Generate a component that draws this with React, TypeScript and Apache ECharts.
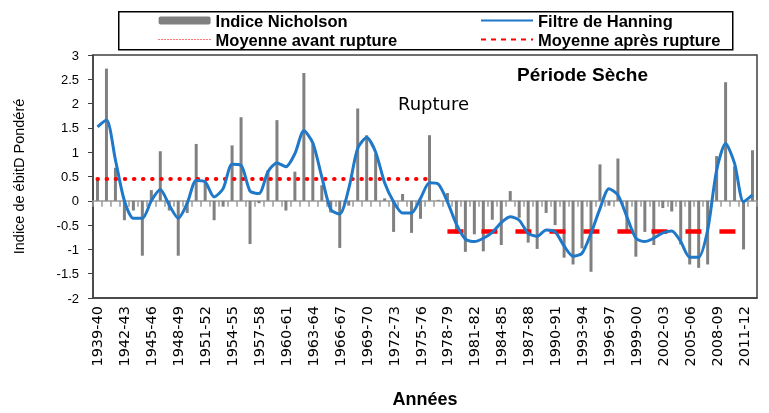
import React, { useEffect, useRef } from "react";
import * as echarts from "echarts";

const categories = [
  "1939-40","1940-41","1941-42","1942-43","1943-44","1944-45","1945-46","1946-47","1947-48","1948-49",
  "1949-50","1950-51","1951-52","1952-53","1953-54","1954-55","1955-56","1956-57","1957-58","1958-59",
  "1959-60","1960-61","1961-62","1962-63","1963-64","1964-65","1965-66","1966-67","1967-68","1968-69",
  "1969-70","1970-71","1971-72","1972-73","1973-74","1974-75","1975-76","1976-77","1977-78","1978-79",
  "1979-80","1980-81","1981-82","1982-83","1983-84","1984-85","1985-86","1986-87","1987-88","1988-89",
  "1989-90","1990-91","1991-92","1992-93","1993-94","1994-95","1995-96","1996-97","1997-98","1998-99",
  "1999-00","2000-01","2001-02","2002-03","2003-04","2004-05","2005-06","2006-07","2007-08","2008-09",
  "2009-10","2010-11","2011-12","2012-13"
];

const nicholson = [
  0.44, 2.72, 0.68, -0.4, -0.2, -1.13, 0.22, 1.02, -0.2, -1.13,
  -0.25, 1.17, 0.4, -0.4, -0.12, 1.14, 1.72, -0.89, -0.05, 0.63,
  1.66, -0.2, 0.6, 2.63, 1.18, 0.32, -0.24, -0.97, -0.1, 1.9,
  1.35, 0.97, 0.05, -0.64, 0.14, -0.66, -0.37, 1.35, 0.02, 0.16,
  -0.68, -1.05, -0.69, -1.04, -0.39, -0.91, 0.2, -0.35, -0.86, -0.99,
  -0.25, -0.5, -1.17, -1.31, -0.98, -1.46, 0.75, -0.1, 0.87, -0.6,
  -1.15, -0.64, -0.91, -0.15, -0.22, -0.9, -1.31, -1.38, -1.31, 0.92,
  2.44, 0.71, -1.0, 1.04
];

const hanning = [
  1.52, 1.66, 0.84, 0.0, -0.36, -0.36, 0.0, 0.23, -0.09, -0.36,
  -0.05, 0.42, 0.39, 0.08, 0.25, 0.75, 0.73, 0.2, 0.15, 0.6,
  0.78, 0.7, 0.97, 1.44, 1.19, 0.49, -0.18, -0.27, 0.25, 1.08,
  1.3, 1.0, 0.37, -0.02, -0.25, -0.25, 0.05, 0.37, 0.34, -0.02,
  -0.48, -0.79, -0.84, -0.77, -0.65, -0.45, -0.33, -0.4, -0.67, -0.73,
  -0.6, -0.64, -0.93, -1.14, -1.08, -0.67, -0.16, 0.25, 0.12, -0.33,
  -0.77, -0.84, -0.77, -0.66, -0.62, -0.84, -1.16, -1.16, -0.6, 0.63,
  1.18, 0.77, -0.02, 0.12
];

const meanBefore = 0.45;
const meanAfter = -0.63;
const lastBeforeIndex = 37;
const firstAfterIndex = 39;

const yTicks = { min: -2, max: 3, interval: 0.5 };

export default function App() {
  const ref = useRef<HTMLDivElement>(null);

  useEffect(() => {
    if (!ref.current) return;
    const chart = echarts.init(ref.current, undefined, { renderer: "svg" });

    const beforeData = categories.map((_, i) => (i <= lastBeforeIndex ? meanBefore : null));
    const afterData = categories.map((_, i) => (i >= firstAfterIndex ? meanAfter : null));

    const legendText = {
      fontFamily: "'Liberation Sans', Arial, sans-serif",
      fontWeight: "bold" as const,
      fontSize: 16.5,
      lineHeight: 19,
      color: "#000",
    };
    const hiddenSymbol = { color: "transparent", borderColor: "transparent", opacity: 0 };

    chart.setOption({
      animation: false,
      textStyle: { fontFamily: "'Liberation Sans', Arial, sans-serif" },
      grid: {
        left: 93,
        right: 12,
        top: 55,
        bottom: 111,
        show: true,
        borderColor: "#404040",
        borderWidth: 1.5,
        backgroundColor: "transparent",
      },
      legend: [
        {
          left: 153,
          top: 8,
          padding: [3, 5, 3, 5],
          orient: "vertical",
          itemGap: 0,
          itemWidth: 52,
          itemHeight: 8,
          selectedMode: false,
          textStyle: legendText,
          data: [
            { name: "Indice Nicholson" },
            {
              name: "Moyenne avant rupture",
              itemStyle: hiddenSymbol,
              lineStyle: { width: 1.2, type: [1, 2], color: "#ff7070" },
            },
          ],
        },
        {
          left: 475,
          top: 8,
          padding: [3, 5, 3, 5],
          orient: "vertical",
          itemGap: 0,
          itemWidth: 52,
          itemHeight: 8,
          selectedMode: false,
          textStyle: legendText,
          data: [
            { name: "Filtre de Hanning", itemStyle: hiddenSymbol, lineStyle: { width: 2 } },
            {
              name: "Moyenne après rupture",
              itemStyle: hiddenSymbol,
              lineStyle: { width: 2, type: [5, 5] },
            },
          ],
        },
      ],
      graphic: [
        {
          type: "rect",
          left: 118,
          top: 11,
          shape: { width: 614, height: 38 },
          style: { fill: "#fff", stroke: "#000", lineWidth: 1.5 },
          z: -1,
        },
        {
          type: "text",
          left: 398,
          top: 94,
          style: {
            text: "Rupture",
            fontFamily: "'DejaVu Sans', sans-serif",
            fontSize: 18,
            fill: "#000",
          },
        },
        {
          type: "text",
          left: 517,
          top: 65,
          style: {
            text: "Période Sèche",
            fontFamily: "'Liberation Sans', Arial, sans-serif",
            fontWeight: "bold",
            fontSize: 19,
            fill: "#000",
          },
        },
      ],
      xAxis: [
        {
          type: "category",
          data: categories,
          boundaryGap: true,
          axisLine: { onZero: false, lineStyle: { color: "#404040", width: 1.5 } },
          axisTick: { show: false },
          axisLabel: {
            interval: 2,
            rotate: 90,
            fontFamily: "'DejaVu Sans', sans-serif",
            fontSize: 14.5,
            color: "#000",
            margin: 8,
          },
          name: "Années",
          nameLocation: "middle",
          nameGap: 92,
          nameTextStyle: {
            fontFamily: "'Liberation Sans', Arial, sans-serif",
            fontWeight: "bold",
            fontSize: 18,
            color: "#000",
          },
        },
        {
          type: "category",
          data: categories,
          boundaryGap: true,
          position: "bottom",
          axisLine: { onZero: true, lineStyle: { color: "#9a9a9a", width: 1.5 } },
          axisTick: { show: true, interval: 0, length: 6, lineStyle: { color: "#9a9a9a", width: 1.5 } },
          axisLabel: { show: false },
        },
      ],
      yAxis: {
        type: "value",
        min: yTicks.min,
        max: yTicks.max,
        interval: yTicks.interval,
        axisLine: { show: true, lineStyle: { color: "#404040", width: 1.5 } },
        axisTick: { show: true, length: 5, lineStyle: { color: "#404040" } },
        splitLine: { show: false },
        axisLabel: {
          fontSize: 13,
          color: "#000",
          margin: 14,
          fontFamily: "'Liberation Sans', Arial, sans-serif",
        },
        name: "Indice de ébitD Pondéré",
        nameLocation: "middle",
        nameGap: 67,
        nameTextStyle: {
          fontSize: 14.5,
          color: "#000",
          fontFamily: "'Liberation Sans', Arial, sans-serif",
        },
      },
      series: [
        {
          name: "Indice Nicholson",
          type: "bar",
          data: nicholson,
          barWidth: 3,
          itemStyle: { color: "#808080" },
          z: 2,
        },
        {
          name: "Moyenne avant rupture",
          type: "line",
          data: beforeData,
          symbol: "none",
          connectNulls: false,
          lineStyle: { color: "#ff0000", width: 4, type: [0.5, 8.6], cap: "round" },
          itemStyle: { color: "#ff0000" },
          z: 3,
        },
        {
          name: "Moyenne après rupture",
          type: "line",
          data: afterData,
          symbol: "none",
          connectNulls: false,
          lineStyle: { color: "#ff0000", width: 4.5, type: [16, 18] },
          itemStyle: { color: "#ff0000" },
          z: 3,
        },
        {
          name: "Filtre de Hanning",
          type: "line",
          data: hanning,
          symbol: "none",
          smooth: 0.25,
          lineStyle: { color: "#1f78c8", width: 3 },
          itemStyle: { color: "#1f78c8" },
          z: 4,
        },
      ],
    });

    return () => chart.dispose();
  }, []);

  return (
    <div
      ref={ref}
      style={{ position: "fixed", left: 0, top: 0, width: 769, height: 413 }}
    />
  );
}
